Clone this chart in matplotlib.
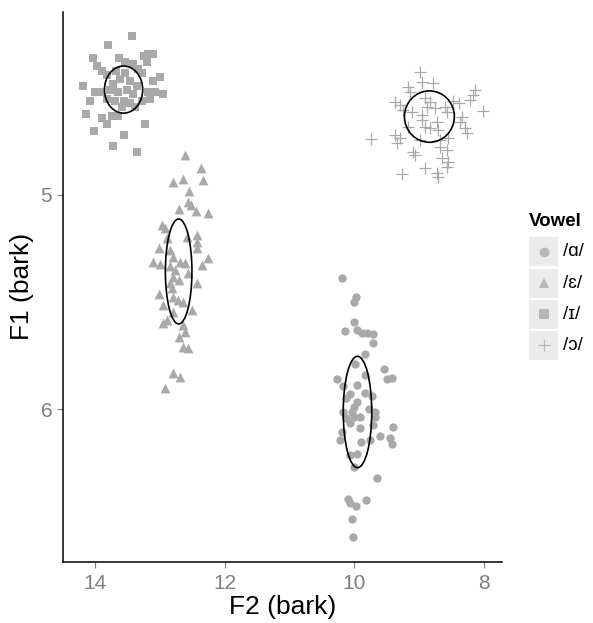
import matplotlib
matplotlib.use("Agg")
import matplotlib.pyplot as plt
from matplotlib.patches import Ellipse, Rectangle
from matplotlib.lines import Line2D

plt.rcParams['font.family'] = ['Liberation Sans', 'DejaVu Sans']

# vowel labels and markers
vowels = ['/ɑ/', '/ɛ/', '/ɪ/', '/ɔ/']
markers = ['o', '^', 's', '+']
sizes = [36, 50, 40, 85]

# /ɑ/ tokens (F2, F1 in bark)
a_f2 = [10.19, 9.98, 10.00, 10.00, 10.15, 9.96, 9.88, 9.81, 9.71, 9.71, 9.83, 9.99, 9.54, 10.27,
        9.50, 9.42, 10.17, 9.95, 10.06, 9.83, 9.73, 10.12, 9.96, 9.78, 10.17, 10.04, 9.68, 10.12,
        9.91, 10.01, 9.68, 10.06, 9.71, 9.40, 9.91, 10.19, 10.22, 9.60, 9.45, 9.42, 9.90, 9.76,
        10.06, 9.96, 10.01, 9.65, 10.10, 10.06, 9.98, 9.82, 10.04, 10.02, 10.01, 9.83]
a_f1 = [5.389, 5.478, 5.501, 5.595, 5.636, 5.631, 5.646, 5.646, 5.651, 5.690, 5.744, 5.790, 5.814, 5.860,
        5.861, 5.854, 5.893, 5.888, 5.927, 5.924, 5.939, 5.950, 5.966, 5.997, 6.013, 6.013, 6.013, 6.043,
        6.036, 6.036, 6.036, 6.064, 6.075, 6.083, 6.090, 6.106, 6.145, 6.126, 6.134, 6.164, 6.153, 6.145,
        6.215, 6.207, 6.270, 6.319, 6.417, 6.436, 6.452, 6.425, 6.515, 6.597, 5.989, 5.841]

# /ɛ/ tokens
e_f2 = [12.61, 12.36, 12.79, 12.64, 12.34, 12.55, 12.56, 12.52, 12.44, 12.70, 12.25, 12.97, 12.92,
        12.43, 12.89, 12.42, 12.43, 13.02, 12.79, 12.25, 13.10, 13.00, 12.69, 12.61, 12.84, 12.35,
        12.56, 12.79, 12.71, 12.84, 12.43, 12.82, 13.02, 12.79, 12.64, 12.95, 12.51, 12.79, 12.89,
        12.95, 12.64, 12.61, 12.71, 12.64, 12.56, 12.79, 12.69, 12.92, 12.77, 12.58, 12.84, 12.72]
e_f1 = [4.813, 4.875, 4.941, 4.925, 4.930, 4.981, 5.034, 5.047, 5.073, 5.065, 5.086, 5.140, 5.156,
        5.187, 5.202, 5.218, 5.249, 5.249, 5.288, 5.296, 5.312, 5.322, 5.312, 5.319, 5.332, 5.327,
        5.366, 5.382, 5.397, 5.413, 5.413, 5.436, 5.464, 5.475, 5.499, 5.514, 5.537, 5.545, 5.584,
        5.597, 5.607, 5.639, 5.662, 5.709, 5.716, 5.833, 5.852, 5.903, 5.350, 5.195, 5.257, 5.491]

# /ɪ/ tokens
i_f2 = [13.43, 13.80, 14.03, 13.63, 13.25, 13.18, 13.10, 13.00, 13.10, 14.19, 14.00, 14.08, 12.95,
        13.07, 13.15, 14.14, 13.90, 13.74, 13.64, 13.38, 13.82, 14.01, 13.23, 13.56, 13.72, 13.36,
        13.97, 13.90, 13.82, 13.67, 13.54, 13.41, 13.33, 13.28, 13.72, 13.61, 13.46, 13.36, 13.77,
        13.64, 13.51, 13.41, 13.92, 13.82, 13.69, 13.56, 13.46, 13.28, 13.18, 13.59, 13.20, 13.54]
i_f1 = [4.26, 4.30, 4.36, 4.36, 4.35, 4.34, 4.34, 4.45, 4.47, 4.49, 4.52, 4.56, 4.53,
        4.52, 4.55, 4.62, 4.64, 4.63, 4.63, 4.59, 4.67, 4.70, 4.67, 4.72, 4.77, 4.80,
        4.40, 4.42, 4.44, 4.42, 4.43, 4.39, 4.41, 4.43, 4.48, 4.46, 4.47, 4.49, 4.51,
        4.52, 4.51, 4.53, 4.52, 4.55, 4.56, 4.56, 4.57, 4.56, 4.52, 4.59, 4.38, 4.38]

# /ɔ/ tokens
o_f2 = [8.99, 8.96, 8.78, 9.17, 9.14, 8.14, 8.16, 8.21, 9.37, 9.29, 8.91, 8.83, 8.47, 8.39, 9.24,
        9.11, 8.75, 8.60, 8.57, 8.01, 8.96, 8.73, 8.34, 8.37, 8.91, 9.17, 8.29, 8.26, 8.70, 9.74,
        9.37, 9.29, 9.34, 8.98, 8.68, 8.55, 8.68, 8.57, 9.09, 9.06, 8.65, 8.55, 8.57, 8.91, 9.27,
        8.73, 8.70, 8.88, 8.96, 8.83]
o_f1 = [4.424, 4.471, 4.475, 4.494, 4.517, 4.509, 4.533, 4.556, 4.564, 4.579, 4.548, 4.564, 4.561, 4.571, 4.603,
        4.611, 4.595, 4.587, 4.611, 4.606, 4.650, 4.657, 4.634, 4.657, 4.681, 4.681, 4.688, 4.712, 4.696, 4.740,
        4.720, 4.735, 4.758, 4.743, 4.743, 4.735, 4.774, 4.790, 4.798, 4.813, 4.829, 4.844, 4.868, 4.875, 4.902,
        4.899, 4.917, 4.587, 4.626, 4.688]

# ellipses: centre and full width/height in bark
ell_f2 = [9.95, 12.71, 13.56, 8.84]
ell_f1 = [6.013, 5.357, 4.508, 4.634]
ell_w = [0.44, 0.41, 0.59, 0.77]
ell_h = [0.52, 0.49, 0.22, 0.24]

f2_data = [a_f2, e_f2, i_f2, o_f2]
f1_data = [a_f1, e_f1, i_f1, o_f1]

point_col = '#a9a9a9'
grey_txt = '#7f7f7f'

fig = plt.figure(figsize=(5.93, 6.23), dpi=100)
ax = fig.add_axes([0.1057, 0.0984, 0.7408, 0.8826])

for f2, f1, m, s in zip(f2_data, f1_data, markers, sizes):
    if m == '+':
        ax.scatter(f2, f1, marker=m, s=s, color=point_col, linewidths=0.9, zorder=2)
    else:
        ax.scatter(f2, f1, marker=m, s=s, color=point_col, linewidths=0, zorder=2)

for cx, cy, w, h in zip(ell_f2, ell_f1, ell_w, ell_h):
    ax.add_patch(Ellipse((cx, cy), w, h, fill=False, edgecolor='black', linewidth=1.2, zorder=3))

ax.set_xlim(14.5, 7.72)
ax.set_ylim(6.712, 4.145)
ax.set_xticks([14, 12, 10, 8])
ax.set_yticks([5, 6])

for side in ['top', 'right']:
    ax.spines[side].set_visible(False)
for side in ['left', 'bottom']:
    ax.spines[side].set_linewidth(1.1)
    ax.spines[side].set_color('black')

ax.tick_params(axis='both', length=4.5, width=0.8, color=grey_txt, labelcolor=grey_txt,
               labelsize=15)
ax.tick_params(axis='x', pad=4.5)
ax.tick_params(axis='y', pad=3)
ax.set_xlabel('F2 (bark)', fontsize=19, labelpad=1)
ax.set_ylabel('F1 (bark)', fontsize=19, labelpad=5)

# legend drawn by hand, ggplot style
fig.text(529.3 / 593, 1 - 222 / 623, 'Vowel', fontsize=13.5, fontweight='bold', va='center', ha='left')
key_y = [251.7, 283.3, 314.2, 345.2]
for lab, m, ky in zip(vowels, markers, key_y):
    fig.add_artist(Rectangle((529.3 / 593, 1 - (ky + 14.3) / 623), 29 / 593, 28.6 / 623,
                             transform=fig.transFigure, facecolor='#ebebeb', edgecolor='none'))
    fig.add_artist(Line2D([543.8 / 593], [1 - ky / 623], marker=m, markersize=7 if m != '+' else 9,
                          color='#b8b8b8', markeredgewidth=0 if m != '+' else 0.9,
                          linestyle='none', transform=fig.transFigure))
    fig.text(562.7 / 593, 1 - ky / 623, lab, fontsize=13.5, va='center', ha='left')

fig.savefig('out.png', dpi=100)
